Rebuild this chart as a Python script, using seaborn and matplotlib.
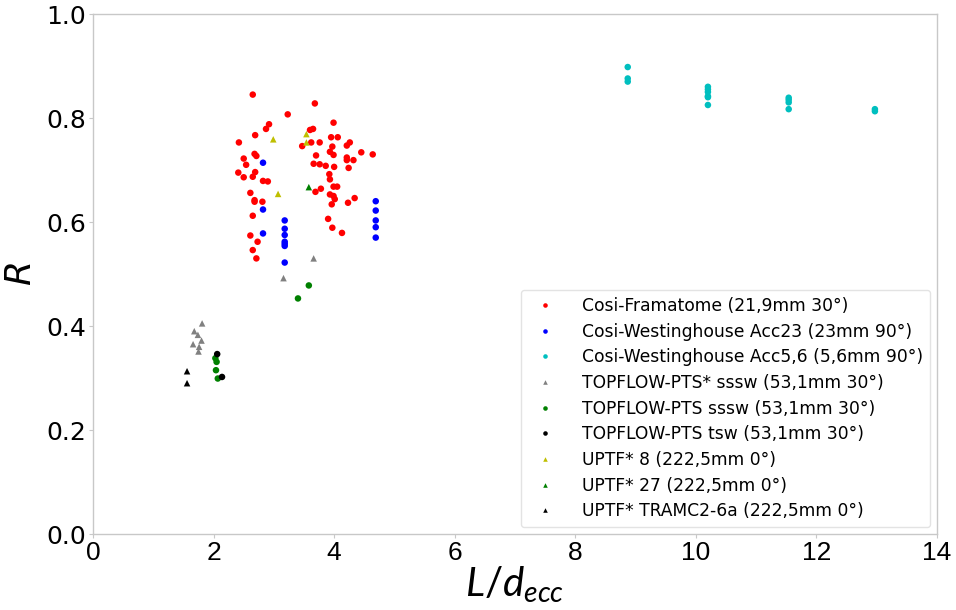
import pandas as pd
import seaborn as sns
import matplotlib
matplotlib.use('Agg')
import matplotlib.pyplot as plt
from matplotlib import rcParams

sns.set_style('whitegrid')
rcParams.update({'font.family': ['DejaVu Sans'],
                 'mathtext.fontset': 'dejavusans',
                 'mathtext.it': 'Lato:italic',
                 'mathtext.rm': 'Lato',
                 'axes.edgecolor': '#c8c8c8',
                 'axes.linewidth': 1.0,
                 'text.color': 'black',
                 'axes.labelcolor': 'black'})

# series labels, colours, markers
labels = ['Cosi-Framatome (21,9mm 30°)',
          'Cosi-Westinghouse Acc23 (23mm 90°)',
          'Cosi-Westinghouse Acc5,6 (5,6mm 90°)',
          'TOPFLOW-PTS* sssw (53,1mm 30°)',
          'TOPFLOW-PTS sssw (53,1mm 30°)',
          'TOPFLOW-PTS tsw (53,1mm 30°)',
          'UPTF* 8 (222,5mm 0°)',
          'UPTF* 27 (222,5mm 0°)',
          'UPTF* TRAMC2-6a (222,5mm 0°)']
colors = ['#ff0000', '#0000ff', '#00bfbf', 'gray', '#008000', 'black', '#bfbf00', '#008000', 'black']
markers = ['o', 'o', 'o', '^', 'o', 'o', '^', '^', '^']

# data
cosi_fra_x = [2.65, 3.68, 3.23, 3.99, 2.92, 2.87, 2.69, 3.60, 3.65, 2.42, 3.47, 3.62, 3.76,
              3.95, 4.06, 3.97, 4.21, 4.26, 4.45, 4.64, 3.93, 3.99, 3.70, 4.21, 4.21, 4.32,
              4.24, 3.66, 3.76, 3.86, 4.00, 2.68, 2.71, 2.50, 2.54, 2.41, 2.50, 2.69, 2.65,
              2.82, 2.90, 3.92, 3.93, 2.61, 2.68, 2.68, 2.81, 2.65, 2.61, 2.73, 2.65, 2.71,
              3.69, 3.78, 3.99, 4.05, 3.93, 3.99, 4.01, 3.96, 4.34, 4.23, 3.90, 3.97, 4.13]
cosi_fra_y = [0.845, 0.828, 0.807, 0.791, 0.788, 0.779, 0.767, 0.777, 0.779, 0.753, 0.746, 0.753, 0.753,
              0.763, 0.763, 0.745, 0.747, 0.753, 0.734, 0.730, 0.735, 0.729, 0.728, 0.724, 0.719, 0.719,
              0.704, 0.712, 0.711, 0.708, 0.706, 0.731, 0.727, 0.722, 0.710, 0.695, 0.686, 0.696, 0.687,
              0.679, 0.678, 0.692, 0.682, 0.656, 0.642, 0.639, 0.639, 0.612, 0.574, 0.562, 0.546, 0.530,
              0.658, 0.664, 0.668, 0.668, 0.653, 0.650, 0.644, 0.634, 0.646, 0.637, 0.606, 0.589, 0.579]

cosi_w23_x = [2.82, 2.82, 2.82, 3.18, 3.18, 3.18, 3.18, 3.18, 3.18, 3.18, 4.69, 4.69, 4.69, 4.69, 4.69]
cosi_w23_y = [0.714, 0.624, 0.578, 0.603, 0.587, 0.575, 0.562, 0.558, 0.554, 0.522, 0.640, 0.622, 0.603, 0.590, 0.570]

cosi_w56_x = [8.87, 8.87, 8.87, 10.2, 10.2, 10.2, 10.2, 10.2, 10.2, 11.54, 11.54, 11.54, 11.54, 12.97, 12.97]
cosi_w56_y = [0.898, 0.876, 0.870, 0.860, 0.855, 0.850, 0.842, 0.840, 0.825, 0.839, 0.835, 0.830, 0.817, 0.817, 0.813]

topflow_star_x = [1.81, 1.68, 1.74, 1.80, 1.66, 1.76, 1.75, 3.16, 3.66]
topflow_star_y = [0.405, 0.390, 0.383, 0.372, 0.365, 0.360, 0.351, 0.492, 0.530]

topflow_sssw_x = [2.03, 2.05, 2.04, 2.07, 3.40, 3.58]
topflow_sssw_y = [0.338, 0.331, 0.315, 0.299, 0.453, 0.478]

topflow_tsw_x = [2.06, 2.14]
topflow_tsw_y = [0.346, 0.302]

uptf8_x = [2.99, 3.54, 3.54, 3.07]
uptf8_y = [0.759, 0.769, 0.753, 0.654]

uptf27_x = [3.58]
uptf27_y = [0.667]

uptf_tramc_x = [1.56, 1.56]
uptf_tramc_y = [0.313, 0.290]

all_x = [cosi_fra_x, cosi_w23_x, cosi_w56_x, topflow_star_x, topflow_sssw_x,
         topflow_tsw_x, uptf8_x, uptf27_x, uptf_tramc_x]
all_y = [cosi_fra_y, cosi_w23_y, cosi_w56_y, topflow_star_y, topflow_sssw_y,
         topflow_tsw_y, uptf8_y, uptf27_y, uptf_tramc_y]

records = []
for lab, xs, ys in zip(labels, all_x, all_y):
    for x, y in zip(xs, ys):
        records.append({'L': x, 'R': y, 'series': lab})
df = pd.DataFrame(records)

fig = plt.figure(figsize=(9.56, 6.10), dpi=100)
ax = fig.add_axes([93/956, 1-534/610, 844/956, 520/610])

sns.scatterplot(data=df, x='L', y='R', hue='series', style='series',
                hue_order=labels, style_order=labels,
                palette=dict(zip(labels, colors)), markers=dict(zip(labels, markers)),
                s=22, linewidth=0, ax=ax)

ax.grid(False)
ax.set_xlim(0, 14)
ax.set_ylim(0, 1)
ax.set_xticks(range(0, 15, 2))
ax.set_yticks([0.0, 0.2, 0.4, 0.6, 0.8, 1.0])
ax.tick_params(axis='both', which='both', length=3, color='#c8c8c8', labelcolor='black',
               left=True, bottom=True, pad=2)
for t in ax.get_yticklabels():
    t.set_fontsize(18)
for t in ax.get_xticklabels():
    t.set_fontsize(19)
    t.set_family(['Liberation Sans Narrow', 'Liberation Sans'])

ax.set_ylabel('$R$', fontsize=26, labelpad=6)
xl = ax.set_xlabel('$L/d_{ecc}$', fontsize=29, labelpad=0)
xl.set_math_fontfamily('custom')

handles, labs = ax.get_legend_handles_labels()
ax.legend(handles, labs, loc='lower right', fontsize=12.3, markerscale=0.7,
          labelspacing=0.45, frameon=True, fancybox=True, edgecolor='#dddddd',
          borderaxespad=0.4, handletextpad=1.2, labelcolor='black')

plt.savefig('out.png', dpi=100)
